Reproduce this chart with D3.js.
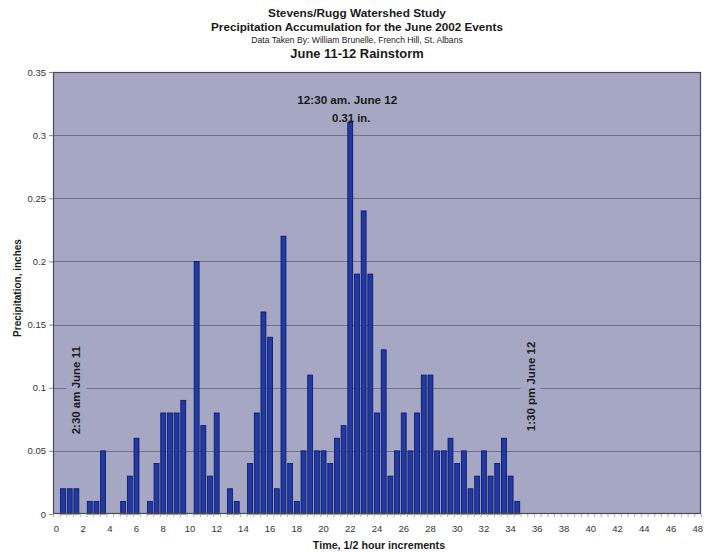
<!DOCTYPE html>
<html>
<head>
<meta charset="utf-8">
<script src="https://cdn.jsdelivr.net/npm/d3@7/dist/d3.min.js"></script>
<style>
  html, body { margin: 0; padding: 0; background: #ffffff; }
  svg { display: block; font-family: "Liberation Sans", Arial, sans-serif; }
</style>
</head>
<body>
<svg id="chart" width="708" height="552"></svg>
<script>
// ---- data ----
const titleLines = [
  "Stevens/Rugg Watershed Study",
  "Precipitation Accumulation for the June 2002 Events",
  "Data Taken By: William Brunelle, French Hill, St. Albans",
  "June 11-12 Rainstorm"
];
const xAxisTitle = "Time, 1/2 hour increments";
const yAxisTitle = "Precipitation, inches";
const times = [0.5, 1, 1.5, 2, 2.5, 3, 3.5, 4, 4.5, 5, 5.5, 6, 6.5, 7, 7.5, 8, 8.5, 9, 9.5, 10,
  10.5, 11, 11.5, 12, 12.5, 13, 13.5, 14, 14.5, 15, 15.5, 16, 16.5, 17, 17.5, 18, 18.5, 19, 19.5, 20,
  20.5, 21, 21.5, 22, 22.5, 23, 23.5, 24, 24.5, 25, 25.5, 26, 26.5, 27, 27.5, 28, 28.5, 29, 29.5, 30,
  30.5, 31, 31.5, 32, 32.5, 33, 33.5, 34, 34.5];
const precip = [0.02, 0.02, 0.02, 0, 0.01, 0.01, 0.05, 0, 0, 0.01, 0.03, 0.06, 0, 0.01, 0.04, 0.08, 0.08, 0.08, 0.09, 0,
  0.20, 0.07, 0.03, 0.08, 0, 0.02, 0.01, 0, 0.04, 0.08, 0.16, 0.14, 0.02, 0.22, 0.04, 0.01, 0.05, 0.11, 0.05, 0.05,
  0.04, 0.06, 0.07, 0.31, 0.19, 0.24, 0.19, 0.08, 0.13, 0.03, 0.05, 0.08, 0.05, 0.08, 0.11, 0.11, 0.05, 0.05, 0.06, 0.04,
  0.05, 0.02, 0.03, 0.05, 0.03, 0.04, 0.06, 0.03, 0.01];
const xMax = 48;
const xStep = 0.5;
const xLabelEvery = 2;
const yTicks = [0, 0.05, 0.1, 0.15, 0.2, 0.25, 0.3, 0.35];
const yMax = 0.35;
const peakNote = ["12:30 am. June 12", "0.31 in."];
const peakTime = 22;
const startNote = "2:30 am June 11";
const startNoteAt = { t: 1.5, v: 0.098 };
const endNote = "1:30 pm June 12";
const endNoteAt = { t: 35.5, v: 0.101 };

// ---- layout ----
const svg = d3.select("#chart");
const plot = { left: 53, right: 701, top: 72, bottom: 514 };
const plotBg = "#a6a8c3";
const gridColor = "#707187";
const barFill = "#1f39aa";
const barStroke = "#0c1552";

const categories = d3.range(0, xMax + xStep / 2, xStep);
const x = d3.scaleBand()
  .domain(categories)
  .range([plot.left, plot.right])
  .paddingInner(0.26)
  .paddingOuter(0.13);
const y = d3.scaleLinear().domain([0, yMax]).range([plot.bottom, plot.top]);

// plot background
svg.append("rect")
  .attr("x", plot.left).attr("y", plot.top)
  .attr("width", plot.right - plot.left).attr("height", plot.bottom - plot.top)
  .attr("fill", plotBg);

// gridlines
svg.append("g")
  .selectAll("line")
  .data(yTicks.filter(d => d > 0 && d < yMax))
  .join("line")
  .attr("x1", plot.left).attr("x2", plot.right)
  .attr("y1", d => Math.round(y(d)) + 0.5).attr("y2", d => Math.round(y(d)) + 0.5)
  .attr("stroke", gridColor).attr("stroke-width", 1);

// rotated notes with boxes hiding the grid behind them
function rotatedNote(text, t, v) {
  const cx = x(t) + x.bandwidth() / 2;
  const cy = y(v);
  const g = svg.append("g");
  const txt = g.append("text")
    .attr("transform", `translate(${cx},${cy}) rotate(-90)`)
    .attr("text-anchor", "middle")
    .attr("dy", "0.35em")
    .attr("font-size", 11.5)
    .attr("font-weight", "bold")
    .attr("fill", "#1a1a1a")
    .text(text);
  const w = txt.node().getComputedTextLength();
  g.insert("rect", "text")
    .attr("x", cx - 10).attr("y", cy - w / 2 - 14)
    .attr("width", 20).attr("height", w + 28)
    .attr("fill", plotBg);
}
rotatedNote(startNote, startNoteAt.t, startNoteAt.v);
rotatedNote(endNote, endNoteAt.t, endNoteAt.v);

// bars
const barData = times.map((t, i) => ({ t, v: precip[i] })).filter(d => d.v > 0);
svg.append("g")
  .selectAll("rect")
  .data(barData)
  .join("rect")
  .attr("x", d => x(d.t))
  .attr("y", d => y(d.v))
  .attr("width", x.bandwidth())
  .attr("height", d => y(0) - y(d.v))
  .attr("fill", barFill)
  .attr("stroke", barStroke)
  .attr("stroke-width", 0.8);

// plot border
svg.append("rect")
  .attr("x", plot.left + 0.5).attr("y", plot.top + 0.5)
  .attr("width", plot.right - plot.left - 1).attr("height", plot.bottom - plot.top - 1)
  .attr("fill", "none").attr("stroke", "#4a4a55").attr("stroke-width", 1.2);

// x axis
const xAxis = d3.axisBottom(x)
  .tickValues(categories.filter(d => Math.abs(d / xLabelEvery - Math.round(d / xLabelEvery)) < 1e-9))
  .tickSize(0)
  .tickPadding(11)
  .tickFormat(d3.format("d"));
const gx = svg.append("g")
  .attr("transform", `translate(0,${plot.bottom})`)
  .call(xAxis);
gx.select(".domain").remove();
gx.selectAll("text").attr("font-size", 9.5).attr("fill", "#333").attr("font-family", "Liberation Sans, Arial, sans-serif");

// minor category tick marks
svg.append("g")
  .selectAll("line")
  .data(categories.concat([xMax + xStep]))
  .join("line")
  .attr("x1", (d, i) => plot.left + i * x.step() + 0.5)
  .attr("x2", (d, i) => plot.left + i * x.step() + 0.5)
  .attr("y1", plot.bottom)
  .attr("y2", plot.bottom + 3)
  .attr("stroke", "#999").attr("stroke-width", 0.8);

// y axis
const yAxis = d3.axisLeft(y)
  .tickValues(yTicks)
  .tickSize(4)
  .tickPadding(3)
  .tickFormat(d => d === 0 ? "0" : String(+d.toFixed(2)));
const gy = svg.append("g")
  .attr("transform", `translate(${plot.left},0)`)
  .call(yAxis);
gy.select(".domain").remove();
gy.selectAll("line").attr("stroke", "#888");
gy.selectAll("text").attr("font-size", 9.5).attr("fill", "#333").attr("font-family", "Liberation Sans, Arial, sans-serif");

// axis titles
svg.append("text")
  .attr("x", 379).attr("y", 549)
  .attr("text-anchor", "middle")
  .attr("font-size", 10.7).attr("font-weight", "bold").attr("fill", "#1a1a1a")
  .text(xAxisTitle);
svg.append("text")
  .attr("transform", "translate(17,288) rotate(-90)")
  .attr("text-anchor", "middle")
  .attr("dy", "0.35em")
  .attr("font-size", 10).attr("font-weight", "bold").attr("fill", "#1a1a1a")
  .text(yAxisTitle);

// titles
const titleStyles = [
  { y: 17, size: 11.8, weight: "bold" },
  { y: 31, size: 11.7, weight: "bold" },
  { y: 43, size: 8.6, weight: "normal" },
  { y: 58, size: 12.9, weight: "bold" }
];
titleLines.forEach((line, i) => {
  svg.append("text")
    .attr("x", 357).attr("y", titleStyles[i].y)
    .attr("text-anchor", "middle")
    .attr("font-size", titleStyles[i].size)
    .attr("font-weight", titleStyles[i].weight)
    .attr("fill", "#1a1a1a")
    .text(line);
});

// peak note
const peakX = x(peakTime) + x.bandwidth() / 2;
svg.append("text")
  .attr("x", peakX - 3).attr("y", 104)
  .attr("text-anchor", "middle")
  .attr("font-size", 11.7).attr("font-weight", "bold").attr("fill", "#1a1a1a")
  .text(peakNote[0]);
svg.append("text")
  .attr("x", peakX + 1).attr("y", 122)
  .attr("text-anchor", "middle")
  .attr("font-size", 11.3).attr("font-weight", "bold").attr("fill", "#1a1a1a")
  .text(peakNote[1]);
</script>
</body>
</html>
